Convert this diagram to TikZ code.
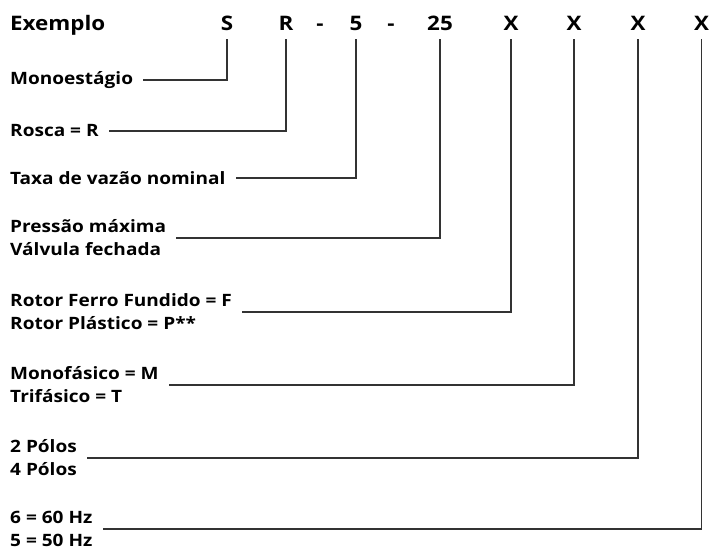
\documentclass[tikz,border=0pt]{standalone}
\usepackage{fontspec}
\setmainfont{Open Sans}[FakeStretch=1.12]
\usetikzlibrary{positioning}
\tikzset{codebox/.style={font=\bfseries\fontsize{20}{24}\selectfont, text height=15pt, text depth=0pt, inner xsep=0pt, inner ysep=9pt},
labelbox/.style={font=\bfseries\fontsize{17}{23}\selectfont, align=left, anchor=west, inner xsep=10pt, inner ysep=0pt},
leader/.style={line width=1.3pt, draw=black!80}}

\begin{document}
\begin{tikzpicture}[x=1pt, y=-1pt]
\useasboundingbox (0,0) rectangle (709,550);

\node (exemplo) [codebox, anchor=base west] at (10,30) {Exemplo};
\node (s) [codebox] at (227,22.5) {S};
\node (r) [codebox, right of=s, node distance=59pt] {R};
\node (dasha) [codebox, right of=r, node distance=34pt] {-};
\node (five) [codebox, right of=dasha, node distance=36pt] {5};
\node (dashb) [codebox, right of=five, node distance=35pt] {-};
\node (tf) [codebox, right of=dashb, node distance=49pt] {25};
\node (xa) [codebox, right of=tf, node distance=71pt] {X};
\node (xb) [codebox, right of=xa, node distance=63pt] {X};
\node (xc) [codebox, right of=xb, node distance=64pt] {X};
\node (xd) [codebox, right of=xc, node distance=63.5pt] {X};

\node (mono) [labelbox] at (0,80) {Monoestágio};
\node (rosca) [labelbox] at (0,131) {Rosca = R};
\node (taxa) [labelbox] at (0,178) {Taxa de vazão nominal};
\node (press) [labelbox] at (0,238) {Pressão máxima\\Válvula fechada};
\node (rotor) [labelbox] at (0,312) {Rotor Ferro Fundido = F\\Rotor Plástico = P**};
\node (fase) [labelbox] at (0,385) {Monofásico = M\\Trifásico = T};
\node (polos) [labelbox] at (0,458) {2 Pólos\\4 Pólos};
\node (freq) [labelbox] at (0,529) {6 = 60 Hz\\5 = 50 Hz};

\draw[leader] (s.south) |- (mono.east);
\draw[leader] (r.south) |- (rosca.east);
\draw[leader] (five.south) |- (taxa.east);
\draw[leader] (tf.south) |- (press.east);
\draw[leader] (xa.south) |- (rotor.east);
\draw[leader] (xb.south) |- (fase.east);
\draw[leader] (xc.south) |- (polos.east);
\draw[leader] (xd.south) |- (freq.east);
\end{tikzpicture}
\end{document}
